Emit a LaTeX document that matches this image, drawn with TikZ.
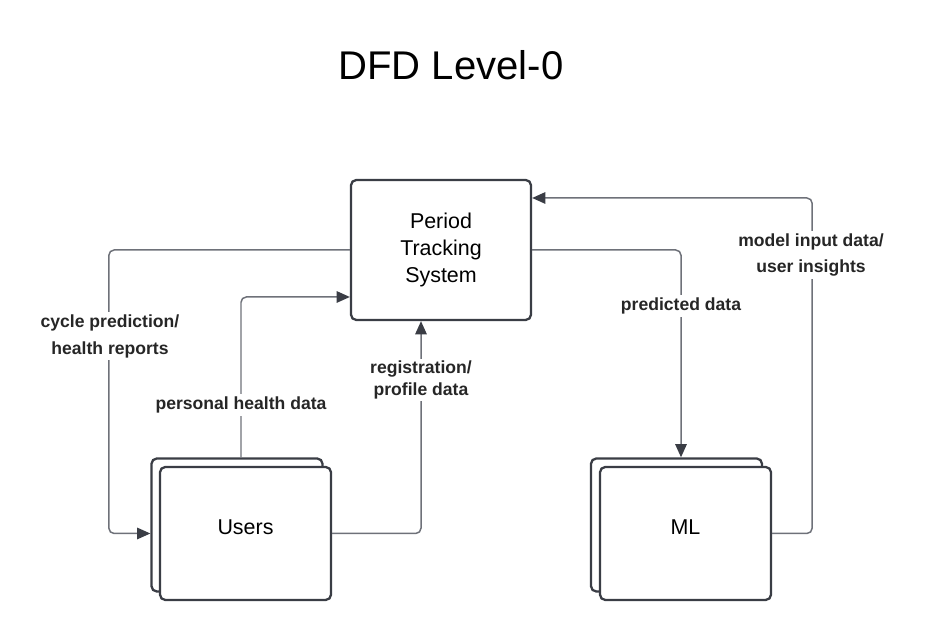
\documentclass[tikz,border=0pt]{standalone}
\usepackage{fontspec}
\setmainfont{Liberation Sans}
\usetikzlibrary{arrows.meta,positioning}
\definecolor{strek}{HTML}{3A3D45}
\definecolor{linje}{HTML}{6E7179}

\begin{document}
\begin{tikzpicture}[
    prosess/.style={rectangle, rounded corners=3pt, draw=strek, line width=1.3pt,
        fill=white, minimum width=3.6cm, minimum height=2.8cm, align=center,
        font=\fontsize{12.2}{15.5}\selectfont},
    enhet/.style={rectangle, rounded corners=3pt, draw=strek, line width=1.3pt,
        fill=white, minimum width=3.42cm, minimum height=2.66cm, text depth=0.25cm,
        font=\fontsize{12.2}{14}\selectfont},
    flyt/.style={draw=linje, line width=0.85pt, rounded corners=3pt,
        -{Triangle[length=7.5pt,width=6.5pt,color=strek]}},
    kant/.style={fill=white, align=center, inner sep=1.5pt, text=black!85,
        font=\bfseries\fontsize{10}{15}\selectfont}
    ]
\useasboundingbox (0,0) rectangle (18.5,12.8);

\node (tittel) at (9.02,11.5) {\fontsize{22.8}{26}\selectfont DFD Level-0};

\node[prosess] (pts) at (8.82,7.8) {Period\\Tracking\\System};

%Users with its stacked copy
\node[enhet] (usersback) at (4.74,2.3) {};
\node[enhet] (users) at (4.91,2.13) {Users};
%ML
\node[enhet] (mlback) at (13.53,2.3) {};
\node[enhet] (ml) at (13.71,2.13) {ML};

%flows
\draw[flyt] (pts.west) -- ++(-4.82,0) |- (usersback.west |- users.east);
\draw[flyt] ([xshift=0.08cm]usersback.north) |- ([yshift=-0.94cm]pts.west);
\draw[flyt] (users.east) -| ([xshift=-0.4cm]pts.south);
\draw[flyt] (pts.east) -| ([xshift=0.09cm]mlback.north);
\draw[flyt] (ml.east) -- ++(0.8,0) |- ([yshift=1.04cm]pts.east);

%labels on the flows
\node[kant] (kant1) at (2.2,6.07) {cycle prediction/\\health reports};
\node[kant] (kant2) at (4.82,4.7) {personal health data};
\node[kant, font=\bfseries\fontsize{10}{12}\selectfont] (kant3) at (8.42,5.2) {registration/\\profile data};
\node[kant] (kant4) at (13.62,6.68) {predicted data};
\node[kant] (kant5) at (16.22,7.7) {model input data/\\user insights};
\end{tikzpicture}
\end{document}
